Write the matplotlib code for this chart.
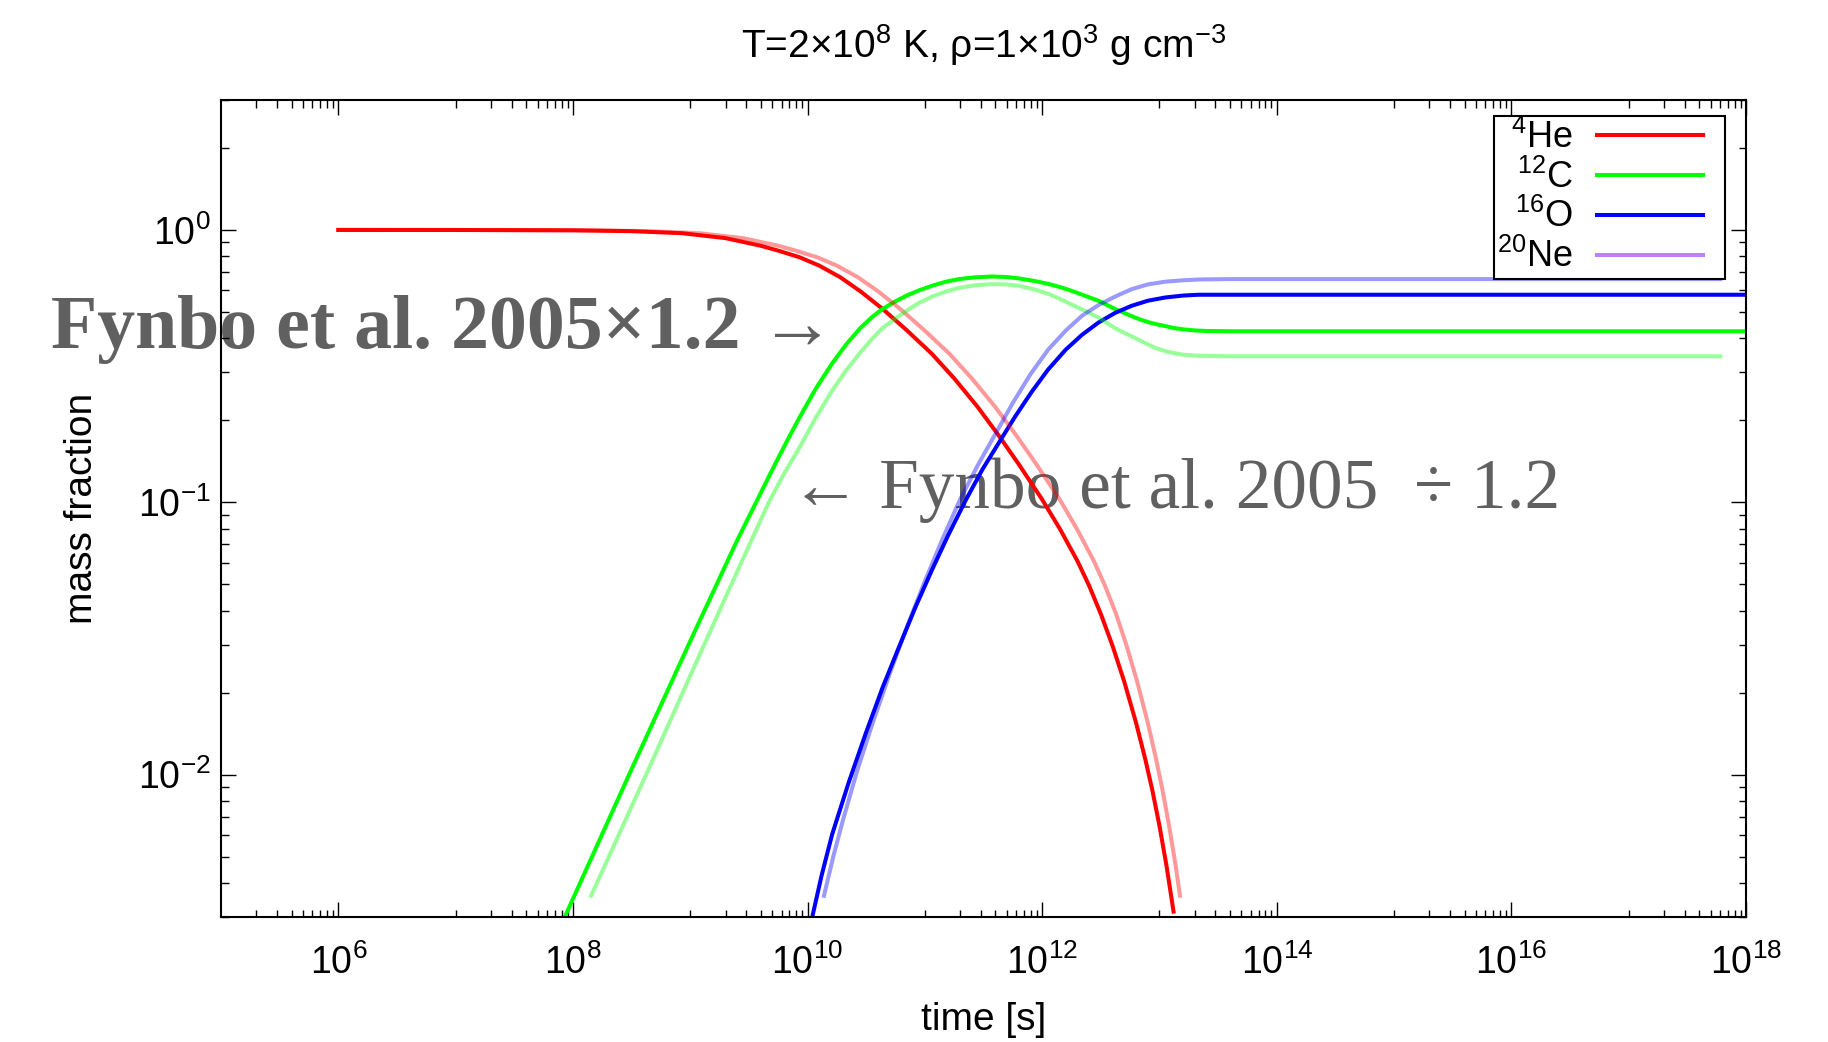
import numpy as np
import matplotlib.pyplot as plt
from matplotlib.lines import Line2D
from matplotlib.legend_handler import HandlerLine2D
from matplotlib.ticker import FixedLocator, LogLocator, NullFormatter

plt.rcParams['font.family'] = ['Liberation Sans', 'DejaVu Sans']
plt.rcParams['mathtext.fontset'] = 'custom'
plt.rcParams['mathtext.rm'] = 'Liberation Sans'
plt.rcParams['mathtext.it'] = 'Liberation Sans:italic'

# log10(time [s]) and log10(mass fraction)
# Fynbo et al. 2005 x1.2 (dark lines)
he_lt = [6.0, 7.0, 8.0, 8.5, 8.93, 9.3, 9.6, 9.75, 9.93, 10.1, 10.28, 10.45, 10.64, 10.85,
         11.06, 11.25, 11.45, 11.63, 11.8, 12.0, 12.15, 12.3, 12.4, 12.5, 12.6, 12.7, 12.8,
         12.88, 12.94, 13.0, 13.06, 13.12]
he_lx = [0.0, -0.0002, -0.0014, -0.0045, -0.012, -0.03, -0.058, -0.076, -0.10, -0.131,
         -0.174, -0.225, -0.29, -0.37, -0.455, -0.545, -0.65, -0.755, -0.86, -0.99, -1.097,
         -1.215, -1.306, -1.41, -1.527, -1.659, -1.809, -1.945, -2.059, -2.188, -2.335, -2.503]

c_lt = [7.93, 8.5, 9.0, 9.2, 9.4, 9.55, 9.7, 9.82, 9.93, 10.07, 10.21, 10.33, 10.45, 10.55,
        10.64, 10.75, 10.85, 10.95, 11.06, 11.18, 11.3, 11.43, 11.57, 11.7, 11.8, 11.93, 12.06,
        12.17, 12.28, 12.38, 12.48, 12.55, 12.62, 12.69, 12.76, 12.83, 12.9, 12.97, 13.05,
        13.12, 13.2, 13.3, 13.4, 13.6, 18.0]
c_lx = [-2.523, -1.98, -1.51, -1.325, -1.14, -1.01, -0.88, -0.779, -0.69, -0.583, -0.49,
        -0.42, -0.36, -0.32, -0.29, -0.262, -0.24, -0.222, -0.205, -0.19, -0.18, -0.174,
        -0.171, -0.173, -0.178, -0.187, -0.199, -0.212, -0.228, -0.244, -0.26, -0.275, -0.29,
        -0.303, -0.316, -0.328, -0.338, -0.346, -0.353, -0.36, -0.365, -0.369, -0.371, -0.372,
        -0.372]

o_lt = [10.04, 10.12, 10.21, 10.35, 10.495, 10.64, 10.78, 10.92, 11.06, 11.2, 11.35, 11.49,
        11.63, 11.77, 11.91, 12.05, 12.2, 12.34, 12.48, 12.62, 12.76, 12.9, 13.05, 13.2, 13.33,
        13.6, 18.0]
o_lx = [-2.523, -2.37, -2.219, -2.03, -1.85, -1.68, -1.531, -1.385, -1.249, -1.12, -0.991,
        -0.88, -0.782, -0.685, -0.595, -0.513, -0.44, -0.385, -0.34, -0.305, -0.279, -0.26,
        -0.248, -0.241, -0.238, -0.238, -0.238]

# Fynbo et al. 2005 /1.2 (light lines)
he2_lt = [6.0, 7.15, 8.15, 8.65, 9.08, 9.45, 9.75, 9.9, 10.08, 10.25, 10.43, 10.6, 10.79,
          11.0, 11.21, 11.4, 11.6, 11.78, 11.95, 12.15, 12.295, 12.44, 12.535, 12.63, 12.72,
          12.81, 12.9, 12.972, 13.027, 13.082, 13.138, 13.175]
he2_lx = [0.0, -0.0002, -0.0014, -0.0045, -0.012, -0.03, -0.058, -0.076, -0.10, -0.131,
          -0.174, -0.225, -0.29, -0.37, -0.455, -0.545, -0.65, -0.755, -0.86, -0.99, -1.097,
          -1.215, -1.306, -1.41, -1.527, -1.659, -1.809, -1.945, -2.059, -2.188, -2.335, -2.445]

c2_lt = [8.155, 8.65, 9.08, 9.3, 9.5, 9.67, 9.8, 9.93, 10.07, 10.21, 10.33, 10.45, 10.55,
         10.64, 10.75, 10.85, 10.95, 11.06, 11.18, 11.3, 11.43, 11.57, 11.7, 11.8, 11.93, 12.06,
         12.17, 12.28, 12.38, 12.48, 12.55, 12.62, 12.69, 12.76, 12.83, 12.9, 12.97, 13.05,
         13.12, 13.2, 13.33, 13.6, 17.78]
c2_lx = [-2.445, -1.975, -1.56, -1.35, -1.16, -1.0, -0.895, -0.80, -0.69, -0.59, -0.515,
         -0.45, -0.40, -0.36, -0.325, -0.295, -0.268, -0.245, -0.226, -0.212, -0.203, -0.199,
         -0.2, -0.205, -0.218, -0.236, -0.257, -0.28, -0.30, -0.322, -0.341, -0.36, -0.376,
         -0.39, -0.405, -0.42, -0.434, -0.445, -0.452, -0.458, -0.462, -0.464, -0.464]

o2_lt = [10.14, 10.22, 10.3, 10.42, 10.54, 10.7, 10.85, 11.0, 11.15, 11.3, 11.45, 11.6, 11.75,
         11.9, 12.05, 12.2, 12.34, 12.48, 12.62, 12.76, 12.9, 13.05, 13.2, 13.33, 13.6, 17.78]
o2_lx = [-2.445, -2.30, -2.17, -1.99, -1.83, -1.63, -1.455, -1.29, -1.135, -0.99, -0.865,
         -0.75, -0.635, -0.53, -0.44, -0.37, -0.315, -0.276, -0.245, -0.218, -0.2, -0.19,
         -0.185, -0.182, -0.1805, -0.1805]

labels = ['$^{4}$He', '$^{12}$C', '$^{16}$O', '$^{20}$Ne']
colors = ['#ff0000', '#00ff00', '#0000ff', '#bf80ff']

x_major = [6, 8, 10, 12, 14, 16, 18]
y_major = [-2, -1, 0]

fig = plt.figure(figsize=(18.28, 10.42), dpi=100)
ax = fig.add_axes([0.1209, 0.11996, 0.83425, 0.78407])

lw = 2.9
dark = [(he_lt, he_lx), (c_lt, c_lx), (o_lt, o_lx)]
light = [(he2_lt, he2_lx), (c2_lt, c2_lx), (o2_lt, o2_lx)]
for (lt, lx), col, lab in zip(dark, colors, labels):
    ax.plot(10.0 ** np.array(lt), 10.0 ** np.array(lx), color=col, lw=lw, label=lab, zorder=2)
ax.plot([], [], color=colors[3], lw=lw, label=labels[3])
for (lt, lx), col in zip(light, colors):
    ax.plot(10.0 ** np.array(lt), 10.0 ** np.array(lx), color=col, lw=lw, alpha=0.4, zorder=2.2)

ax.set_xscale('log')
ax.set_yscale('log')
ax.set_xlim(1e5, 1e18)
ax.set_ylim(0.003, 3)

ax.xaxis.set_major_locator(FixedLocator([10.0 ** e for e in x_major]))
ax.set_xticklabels([r'$\mathregular{10^{%d}}$' % e for e in x_major])
x_minor = [k * 10.0 ** e for e in range(5, 18, 2) for k in range(1, 10)]
ax.xaxis.set_minor_locator(FixedLocator(x_minor[1:]))
ax.xaxis.set_minor_formatter(NullFormatter())

ax.yaxis.set_major_locator(FixedLocator([10.0 ** e for e in y_major]))
ax.set_yticklabels([r'$\mathregular{10^{%d}}$' % e for e in y_major])
ax.yaxis.set_minor_locator(LogLocator(base=10, subs=np.arange(2, 10)))
ax.yaxis.set_minor_formatter(NullFormatter())

ax.tick_params(which='both', direction='in', top=True, right=True, width=1.0, labelsize=27)
ax.tick_params(which='major', length=10.8)
ax.tick_params(which='minor', length=5.4)
ax.tick_params(axis='x', which='major', pad=20)
ax.tick_params(axis='y', which='major', pad=7.5)
for sp in ax.spines.values():
    sp.set_linewidth(1.5)

ax.set_xlabel('time [s]', fontsize=28)
ax.xaxis.set_label_coords(0.5, -0.104)
ax.set_ylabel('mass fraction', fontsize=28)
ax.yaxis.set_label_coords(-0.0795, 0.5)
ax.set_title('T=2×10$^{8}$ K, ρ=1×10$^{3}$ g cm$^{-3}$', fontsize=28, pad=30)

leg = ax.legend(loc='upper right', bbox_to_anchor=(0.9862, 0.9804), markerfirst=False,
                fontsize=26, fancybox=False, edgecolor='black', framealpha=1,
                borderpad=0.1, borderaxespad=0, handlelength=3.95, handletextpad=0.15,
                labelspacing=0.1,
                handler_map={Line2D: HandlerLine2D(numpoints=2, marker_pad=0.52)})
leg.get_frame().set_linewidth(1.5)

serif = ['Liberation Serif', 'DejaVu Serif']
ax.text(-0.1115, 0.697, 'Fynbo et al. 2005×1.2 →', transform=ax.transAxes,
        fontsize=54.5, fontweight='bold', family=serif, color='#606060',
        ha='left', va='baseline', zorder=1, clip_on=False)
ax.text(0.3728, 0.5002, '← Fynbo et al. 2005  ÷ 1.2', transform=ax.transAxes,
        fontsize=51.3, family=serif, color='#606060',
        ha='left', va='baseline', zorder=1, clip_on=False)

fig.savefig('out.png', dpi=100)
